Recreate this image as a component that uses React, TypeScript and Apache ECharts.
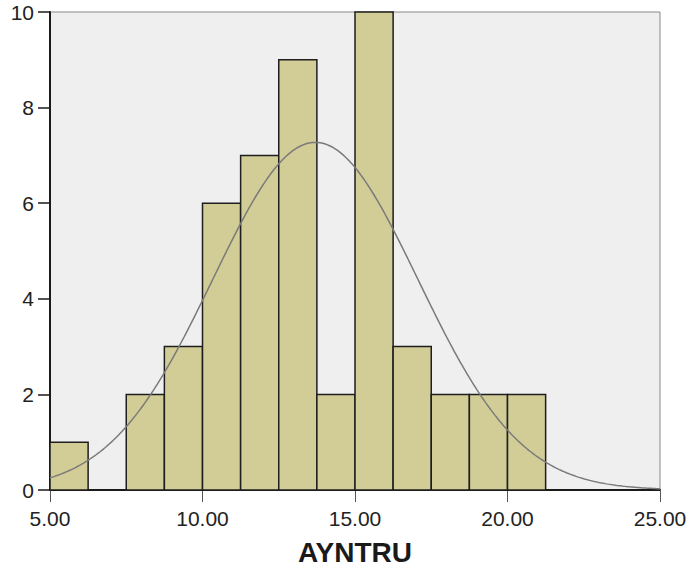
import React, { useEffect, useRef } from "react";
import * as echarts from "echarts";

// Histogram bins: [start, end]
const binStarts = [5.0, 6.25, 7.5, 8.75, 10.0, 11.25, 12.5, 13.75, 15.0, 16.25, 17.5, 18.75, 20.0];
const binWidth = 1.25;
const binCounts = [1, 0, 2, 3, 6, 7, 9, 2, 10, 3, 2, 2, 2];

// Fitted normal curve parameters
const curveMean = 13.7;
const curveSd = 3.36;

const xTicks = [5, 10, 15, 20, 25];
const yTicks = [0, 2, 4, 6, 8, 10];
const axisTitle = "AYNTRU";

const FONT = "'Liberation Sans', Arial, sans-serif";

export default function App() {
  const ref = useRef<HTMLDivElement>(null);

  useEffect(() => {
    if (!ref.current) return;
    const chart = echarts.init(ref.current, undefined, { renderer: "svg" });

    const n = binCounts.reduce((a, b) => a + b, 0);
    const barData = binStarts.map((s, i) => [s, s + binWidth, binCounts[i]]);
    const curve: number[][] = [];
    const xMin = xTicks[0];
    const xMax = xTicks[xTicks.length - 1];
    for (let k = 0; k <= 400; k++) {
      const x = xMin + ((xMax - xMin) * k) / 400;
      const z = (x - curveMean) / curveSd;
      const y = (n * binWidth * Math.exp(-0.5 * z * z)) / (curveSd * Math.sqrt(2 * Math.PI));
      curve.push([x, y]);
    }

    chart.setOption({
      animation: false,
      backgroundColor: "#ffffff",
      textStyle: { fontFamily: FONT },
      grid: {
        left: 50,
        right: 29,
        top: 12,
        bottom: 76,
        containLabel: false,
        outerBoundsMode: "none",
        show: true,
        backgroundColor: "#efefef",
        borderColor: "#8a8a8a",
        borderWidth: 1,
      },
      xAxis: {
        type: "value",
        min: xMin,
        max: xMax,
        interval: 5,
        name: axisTitle,
        nameLocation: "middle",
        nameGap: 48,
        nameTextStyle: { fontFamily: FONT, fontSize: 28, fontWeight: "bold", color: "#1a1a1a" },
        axisLine: { show: true, onZero: false, lineStyle: { color: "#1a1a1a", width: 2 } },
        axisTick: { show: true, inside: false, length: 12, lineStyle: { color: "#555", width: 1 } },
        axisLabel: {
          fontFamily: FONT,
          fontSize: 21,
          color: "#222",
          margin: 18,
          formatter: (v: number) => v.toFixed(2),
          showMinLabel: true,
          showMaxLabel: true,
        },
        splitLine: { show: false },
      },
      yAxis: {
        type: "value",
        min: yTicks[0],
        max: yTicks[yTicks.length - 1],
        interval: 2,
        axisLine: { show: true, onZero: false, lineStyle: { color: "#1a1a1a", width: 2 } },
        axisTick: { show: true, inside: false, length: 12, lineStyle: { color: "#1a1a1a", width: 1.5 } },
        axisLabel: { fontFamily: FONT, fontSize: 21, color: "#222", margin: 16 },
        splitLine: { show: false },
      },
      series: [
        {
          type: "custom",
          data: barData,
          encode: { x: [0, 1], y: 2 },
          z: 2,
          renderItem: (params: any, api: any) => {
            const c = api.value(2);
            if (!c) return null;
            const p0 = api.coord([api.value(0), c]);
            const p1 = api.coord([api.value(1), 0]);
            return {
              type: "rect",
              shape: { x: p0[0], y: p0[1], width: p1[0] - p0[0], height: p1[1] - p0[1] },
              style: { fill: "#d2cd97", stroke: "#1e1e1e", lineWidth: 1.5 },
            };
          },
        },
        {
          type: "line",
          data: curve,
          showSymbol: false,
          symbol: "none",
          smooth: false,
          z: 3,
          lineStyle: { color: "#7a7a7a", width: 1.5 },
        },
      ],
    });

    return () => chart.dispose();
  }, []);

  return <div ref={ref} style={{ width: 689, height: 566, position: "absolute", left: 0, top: 0 }} />;
}
